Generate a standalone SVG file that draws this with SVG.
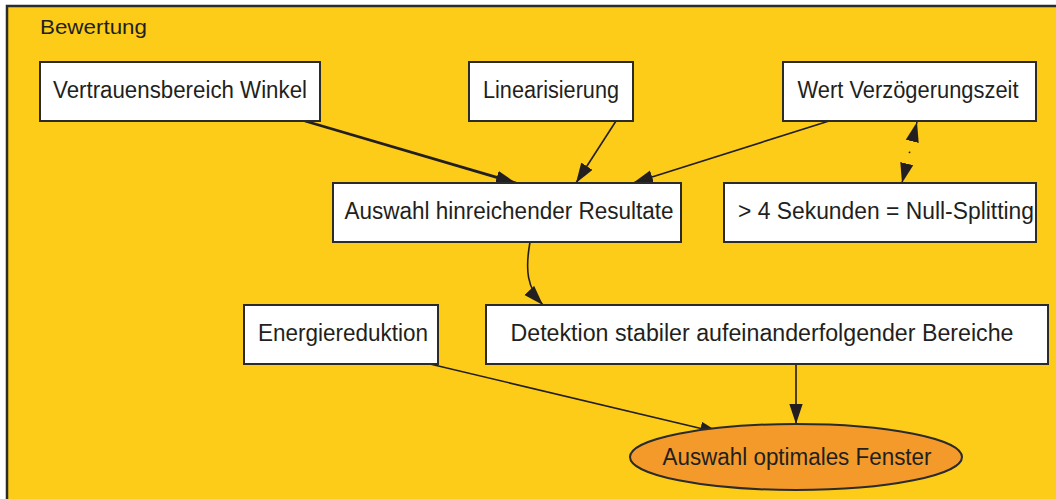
<svg xmlns="http://www.w3.org/2000/svg" width="1056" height="499" viewBox="0 0 1056 499">
  <defs>
    <style>
      .frame { fill: #FCCC18; stroke: #2b2b2b; stroke-width: 2.5; }
      .box { fill: #ffffff; stroke: #2b2b2b; stroke-width: 2; }
      .ell { fill: #F39A2A; stroke: #2b2b2b; stroke-width: 2; }
      .lbl { font-family: "Liberation Sans", Arial, sans-serif; font-size: 23px; fill: #231F20; text-anchor: middle; }
      .title { font-family: "Liberation Sans", Arial, sans-serif; font-size: 21px; fill: #231F20; }
      .edge { fill: none; stroke: #231F20; stroke-width: 1.6; }
      .thick { stroke-width: 2.8; }
      .dash { stroke-dasharray: 1.5 29; }
    </style>
    <marker id="ah" markerUnits="userSpaceOnUse" markerWidth="20" markerHeight="14" viewBox="0 0 18 12" refX="18" refY="6" orient="auto-start-reverse">
      <path d="M0,0 L18,6 L0,12 z" fill="#231F20"/>
    </marker>
  </defs>

  <rect width="1056" height="499" fill="#ffffff"/>
  <g id="cluster">
    <rect class="frame" x="7" y="6" width="1060" height="510"/>
    <text class="title" x="40" y="34" textLength="107" lengthAdjust="spacingAndGlyphs">Bewertung</text>
  </g>

  <g id="edges">
    <line class="edge thick" x1="305" y1="121" x2="516" y2="183" marker-end="url(#ah)"/>
    <line class="edge" x1="616" y1="121" x2="576" y2="183" marker-end="url(#ah)"/>
    <line class="edge" x1="829" y1="121" x2="633" y2="183" marker-end="url(#ah)"/>
    <line class="edge dash" x1="917" y1="122" x2="902" y2="183" marker-start="url(#ah)" marker-end="url(#ah)"/>
    <path class="edge" d="M530,242 C525,270 527,288 543,305" marker-end="url(#ah)"/>
    <line class="edge" x1="430" y1="364" x2="720" y2="433" marker-end="url(#ah)"/>
    <line class="edge" x1="796" y1="364" x2="796" y2="424" marker-end="url(#ah)"/>
  </g>

  <g id="n_vertrauen">
    <rect class="box" x="40" y="62" width="280" height="59"/>
    <text class="lbl" x="180" y="98" textLength="254" lengthAdjust="spacingAndGlyphs">Vertrauensbereich Winkel</text>
  </g>
  <g id="n_linear">
    <rect class="box" x="469" y="62" width="164" height="59"/>
    <text class="lbl" x="551" y="98" textLength="136" lengthAdjust="spacingAndGlyphs">Linearisierung</text>
  </g>
  <g id="n_wert">
    <rect class="box" x="783" y="62" width="253" height="59"/>
    <text class="lbl" x="908" y="98" textLength="221" lengthAdjust="spacingAndGlyphs">Wert Verzögerungszeit</text>
  </g>
  <g id="n_auswahl">
    <rect class="box" x="333" y="183" width="348" height="59"/>
    <text class="lbl" x="509" y="219" textLength="329" lengthAdjust="spacingAndGlyphs">Auswahl hinreichender Resultate</text>
  </g>
  <g id="n_sekunden">
    <rect class="box" x="724" y="183" width="312" height="59"/>
    <text class="lbl" x="886" y="219" textLength="296" lengthAdjust="spacingAndGlyphs">&gt; 4 Sekunden = Null-Splitting</text>
  </g>
  <g id="n_energie">
    <rect class="box" x="244" y="305" width="194" height="59"/>
    <text class="lbl" x="343" y="341" textLength="170" lengthAdjust="spacingAndGlyphs">Energiereduktion</text>
  </g>
  <g id="n_detektion">
    <rect class="box" x="486" y="305" width="562" height="59"/>
    <text class="lbl" x="762" y="341" textLength="503" lengthAdjust="spacingAndGlyphs">Detektion stabiler aufeinanderfolgender Bereiche</text>
  </g>
  <g id="n_fenster">
    <ellipse class="ell" cx="796" cy="457" rx="166" ry="33"/>
    <text class="lbl" x="797" y="465" textLength="269" lengthAdjust="spacingAndGlyphs">Auswahl optimales Fenster</text>
  </g>
</svg>
